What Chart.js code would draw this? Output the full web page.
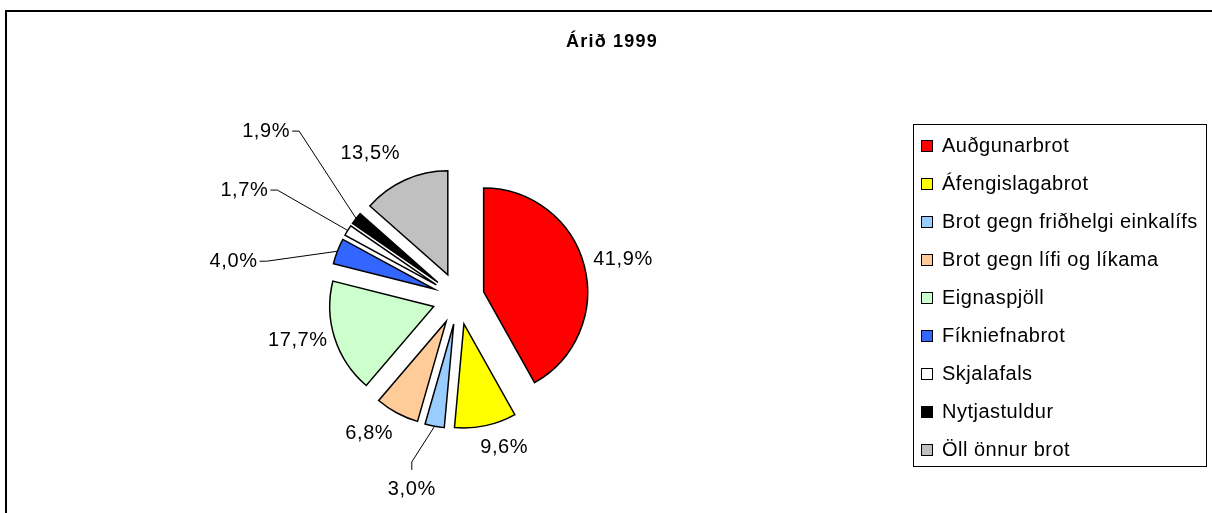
<!DOCTYPE html>
<html><head><meta charset="utf-8">
<script src="https://cdn.jsdelivr.net/npm/chart.js@4.4.1/dist/chart.umd.min.js"></script>
<style>html,body{margin:0;padding:0;background:#fff;} canvas{display:block;}</style>
</head><body>
<canvas id="c" width="1212" height="513"></canvas>
<script>
const TITLE = 'Árið 1999';
const categories = ['Auðgunarbrot', 'Áfengislagabrot', 'Brot gegn friðhelgi einkalífs', 'Brot gegn lífi og líkama', 'Eignaspjöll', 'Fíkniefnabrot', 'Skjalafals', 'Nytjastuldur', 'Öll önnur brot'];
const shares = [41.9, 9.6, 3.0, 6.8, 17.7, 4.0, 1.7, 1.9, 13.5];
const sliceColors = ['#FF0000', '#FFFF00', '#99CCFF', '#FFCC99', '#CCFFCC', '#3366FF', '#FFFFFF', '#000000', '#C0C0C0'];

// label placement (styling, relative to each slice's geometry)
const EXPLODE = 26;
const labelExtra = [39, 26, 67, 32, 36, 98, 110, 125, 40];
const labelTurn = [1.4, -5, 3.1, 5.2, 3.1, -11.9, -4.7, 3, -7];
const hasLeader = [false, false, true, false, false, true, true, true, false];

const FONT = '"Liberation Sans", Arial, sans-serif';

// exploded slices: shift each arc outward along its mid angle
const baseDraw = Chart.ArcElement.prototype.draw;
Chart.ArcElement.prototype.draw = function (ctx) {
  const a = (this.startAngle + this.endAngle) / 2;
  ctx.save();
  ctx.translate(Math.cos(a) * EXPLODE, Math.sin(a) * EXPLODE);
  baseDraw.call(this, ctx);
  ctx.restore();
};

const decor = {
  id: 'decor',
  afterDatasetsDraw(chart) {
    const ctx = chart.ctx;
    const meta = chart.getDatasetMeta(0);
    ctx.save();
    ctx.font = '20px ' + FONT;
    ctx.letterSpacing = '0.6px';
    ctx.fillStyle = '#000';
    ctx.strokeStyle = '#000';
    ctx.lineWidth = 1;
    ctx.textAlign = 'center';
    ctx.textBaseline = 'middle';
    meta.data.forEach((arc, i) => {
      const mid = (arc.startAngle + arc.endAngle) / 2;
      const R = arc.outerRadius;
      const ex = arc.x + Math.cos(mid) * EXPLODE, ey = arc.y + Math.sin(mid) * EXPLODE;
      const th = mid + labelTurn[i] * Math.PI / 180;
      const d = R + EXPLODE + labelExtra[i];
      const lx = arc.x + Math.cos(th) * d, ly = arc.y + Math.sin(th) * d;
      const text = shares[i].toFixed(1).replace('.', ',') + '%';
      ctx.fillText(text, lx, ly);
      if (hasLeader[i]) {
        const w = ctx.measureText(text).width;
        const sx = ex + Math.cos(mid) * R, sy = ey + Math.sin(mid) * R;
        let p1, p2;
        if (Math.abs(lx - arc.x) > Math.abs(ly - arc.y)) {
          const side = lx < arc.x ? 1 : -1;
          p1 = [lx + side * (w / 2 + 2), ly];
          p2 = [lx + side * (w / 2 + 9), ly];
        } else {
          const side = ly > arc.y ? -1 : 1;
          p1 = [lx, ly + side * 20];
          p2 = [lx, ly + side * 28];
        }
        ctx.beginPath();
        ctx.moveTo(p1[0], p1[1]);
        ctx.lineTo(p2[0], p2[1]);
        ctx.lineTo(sx, sy);
        ctx.stroke();
      }
    });
    ctx.restore();
  },
  afterDraw(chart) {
    const ctx = chart.ctx;
    ctx.save();
    // outer frame
    ctx.strokeStyle = '#000';
    ctx.lineWidth = 2;
    ctx.beginPath();
    ctx.moveTo(6, 600);
    ctx.lineTo(6, 11);
    ctx.lineTo(1300, 11);
    ctx.stroke();
    // title
    ctx.fillStyle = '#000';
    ctx.font = 'bold 18px ' + FONT;
    ctx.letterSpacing = '1.2px';
    ctx.textAlign = 'center';
    ctx.textBaseline = 'alphabetic';
    ctx.fillText(TITLE, 612, 47);
    // legend
    ctx.lineWidth = 1;
    ctx.strokeRect(913.5, 124.5, 293, 342);
    ctx.font = '20px ' + FONT;
    ctx.letterSpacing = '0.5px';
    ctx.textAlign = 'left';
    categories.forEach((c, i) => {
      const y = 140.5 + 38 * i;
      ctx.fillStyle = sliceColors[i];
      ctx.fillRect(921.5, y, 11, 11);
      ctx.strokeRect(921.5, y, 11, 11);
      ctx.fillStyle = '#000';
      ctx.fillText(c, 942, 152 + 38 * i);
    });
    ctx.restore();
  }
};

new Chart(document.getElementById('c'), {
  type: 'pie',
  data: {
    labels: categories,
    datasets: [{
      data: shares,
      backgroundColor: sliceColors,
      borderColor: '#000',
      borderWidth: 1.5,
      borderJoinStyle: 'miter',
      clip: false
    }]
  },
  options: {
    responsive: false,
    animation: false,
    events: [],
    layout: { padding: { left: 353.75, right: 648.75, top: 193.75, bottom: 109.75 } },
    plugins: { legend: { display: false }, title: { display: false }, tooltip: { enabled: false } }
  },
  plugins: [decor]
});
</script>
</body></html>
